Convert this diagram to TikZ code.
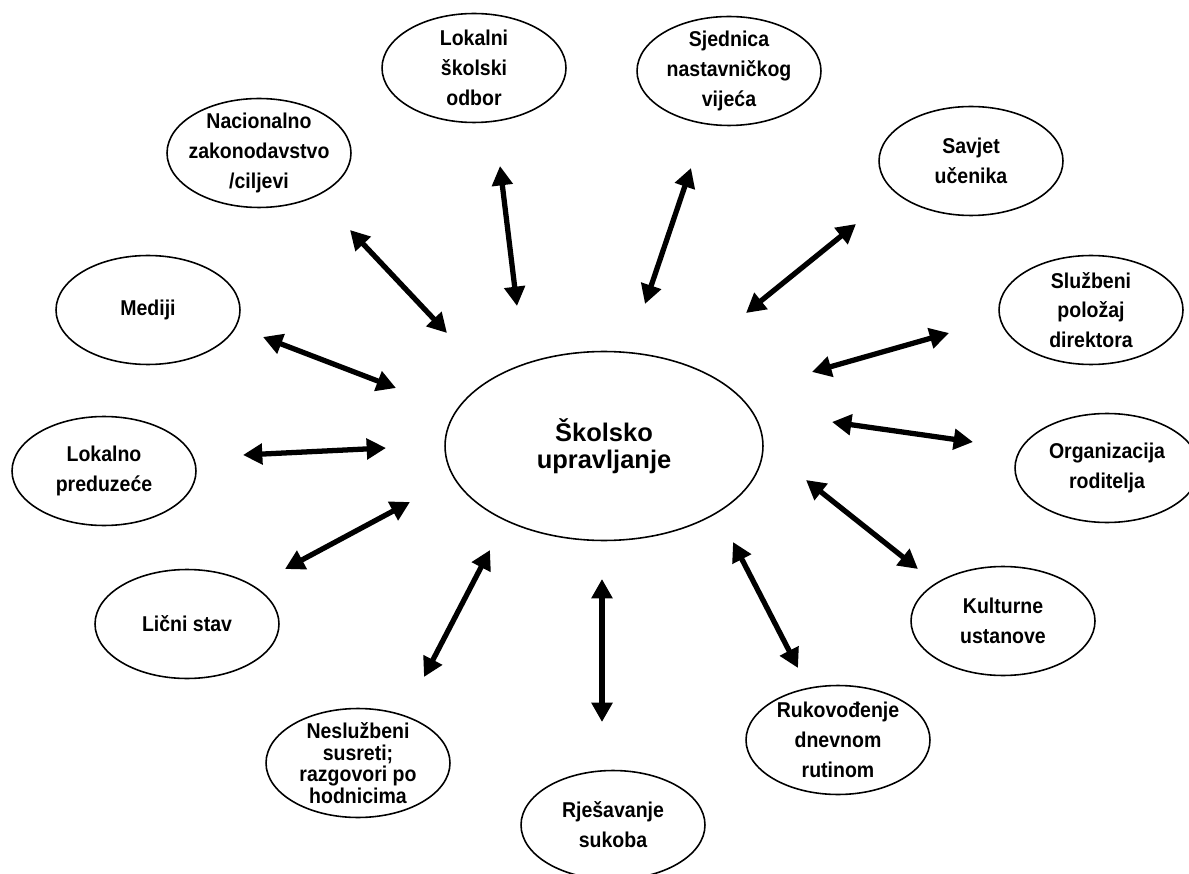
\documentclass[tikz,border=0pt]{standalone}
\usepackage{fontspec}
\setmainfont{Liberation Sans}
\newfontfamily\narrowsans[FakeStretch=0.91]{Liberation Sans}
\usetikzlibrary{shapes.geometric,arrows.meta,calc}

\tikzset{
	box/.style={ellipse, draw, line width=0.9pt, minimum width=3.68cm, minimum height=2.18cm,
		inner xsep=-0.25cm, inner ysep=-0.3cm, align=center, font=\narrowsans\bfseries\fontsize{12.2}{17}\selectfont},
	hub/.style={box, minimum width=6.36cm, minimum height=3.78cm, font=\bfseries\fontsize{14.5}{15.5}\selectfont},
	tight/.style={font=\narrowsans\bfseries\fontsize{12.2}{12.2}\selectfont},
	link/.style={line width=3pt, {Triangle[length=11pt,width=11.5pt]}-{Triangle[length=11pt,width=11.5pt]}}
}

\begin{document}
\begin{tikzpicture}[x=0.02cm, y=-0.02cm]
	\useasboundingbox (0,0) rectangle (1189,874);
	% centre
	\node[hub] (c) at (604,446) {Školsko\\upravljanje};
	% around it
	\node[box] (lok) at (474,68) {Lokalni\\školski\\odbor};
	\node[box] (sje) at (729,71) {Sjednica\\nastavničkog\\vijeća};
	\node[box] (nac) at (259,153) {Nacionalno\\zakonodavstvo\\/ciljevi};
	\node[box] (sav) at (971,161) {Savjet\\učenika};
	\node[box] (med) at (148,310) {Mediji};
	\node[box] (slu) at (1091,310) {Službeni\\položaj\\direktora};
	\node[box] (pre) at (104,471) {Lokalno\\preduzeće};
	\node[box] (org) at (1107,468) {Organizacija\\roditelja};
	\node[box] (lic) at (187,624) {Lični stav};
	\node[box] (kul) at (1003,621) {Kulturne\\ustanove};
	\node[box, tight] (nes) at (358,763) {Neslužbeni\\susreti;\\razgovori po\\hodnicima};
	\node[box] (ruk) at (838,740) {Rukovođenje\\dnevnom\\rutinom};
	\node[box] (rje) at (613,825) {Rješavanje\\sukoba};
	\path[link]
	($(c)+(-157,-113)$) edge ($(nac)+(91,77)$)
	($(c)+(-87,-140)$)  edge ($(lok)+(26,98)$)
	($(c)+(41,-142)$)   edge ($(sje)+(-38,97)$)
	($(c)+(142,-133)$)  edge ($(sav)+(-115,63)$)
	($(c)+(208,-74)$)   edge ($(slu)+(-142,23)$)
	($(c)+(-208,-58)$)  edge ($(med)+(115,27)$)
	($(c)+(-218,2)$)    edge ($(pre)+(139,-16)$)
	($(c)+(228,-24)$)   edge ($(org)+(-134,-26)$)
	($(c)+(-194,56)$)   edge ($(lic)+(98,-55)$)
	($(c)+(202,34)$)    edge ($(kul)+(-85,-52)$)
	($(c)+(-114,104)$)  edge ($(nes)+(66,-86)$)
	($(c)+(-2,133)$)    edge ($(rje)+(-11,-103)$)
	($(c)+(129,96)$)    edge ($(ruk)+(-40,-72)$)
	;
\end{tikzpicture}
\end{document}
